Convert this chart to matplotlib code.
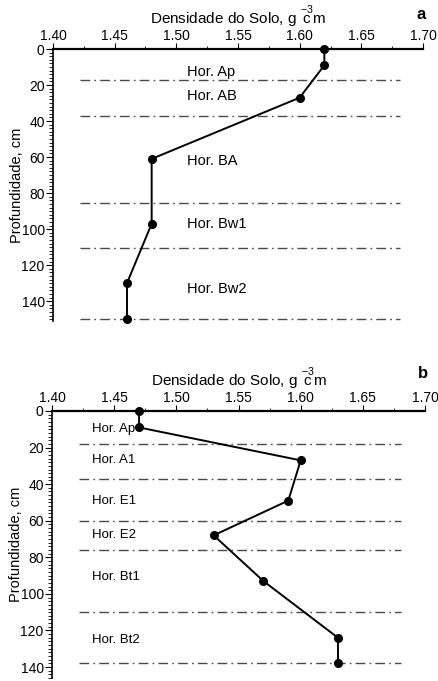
import matplotlib
matplotlib.use('Agg')
import matplotlib.pyplot as plt
from matplotlib.ticker import MultipleLocator

plt.rcParams['font.family'] = ['Liberation Sans', 'DejaVu Sans']
plt.rcParams['mathtext.fontset'] = 'custom'
plt.rcParams['mathtext.rm'] = 'Liberation Sans'
plt.rcParams['mathtext.it'] = 'Liberation Sans'

# profile a
dens_a = [1.62, 1.62, 1.60, 1.48, 1.48, 1.46, 1.46]
depth_a = [0, 9, 27, 61, 97, 130, 150]
bounds_a = [17, 37, 85.5, 110.5, 150]
hor_a = ['Hor. Ap', 'Hor. AB', 'Hor. BA', 'Hor. Bw1', 'Hor. Bw2']
hor_depth_a = [13, 26, 62, 97, 133]

# profile b
dens_b = [1.47, 1.47, 1.60, 1.59, 1.53, 1.57, 1.63, 1.63]
depth_b = [0, 9, 27, 49, 68, 93, 124, 138]
bounds_b = [18, 37, 60, 76, 110, 138]
hor_b = ['Hor. Ap', 'Hor. A1', 'Hor. E1', 'Hor. E2', 'Hor. Bt1', 'Hor. Bt2']
hor_depth_b = [10, 27, 49, 68, 91, 125]

xticks = [1.40, 1.45, 1.50, 1.55, 1.60, 1.65, 1.70]
xticklabels = ['1.40', '1.45', '1.50', '1.55', '1.60', '1.65', '1.70']
xlabel = r'Densidade do Solo, g $\overset{-3}{\mathrm{c}}$m'


def profile(ax, dens, depth, bounds, names, name_depth, name_x, name_size, ymax):
    for b in bounds:
        ax.plot([1.422, 1.681], [b, b], color='#4a4a4a', lw=1.0,
                dashes=(7, 3, 1.2, 3), zorder=1)
    ax.plot(dens, depth, color='black', lw=1.4, marker='o', ms=5.5,
            clip_on=False, zorder=3)
    for n, d in zip(names, name_depth):
        ax.text(name_x, d, n, fontsize=name_size, ha='left', va='center')

    ax.set_xlim(1.40, 1.70)
    ax.set_ylim(ymax, 0)
    ax.xaxis.tick_top()
    ax.xaxis.set_label_position('top')
    ax.set_xticks(xticks)
    ax.set_xticklabels(xticklabels)
    ax.xaxis.set_minor_locator(MultipleLocator(0.025))
    ax.yaxis.set_major_locator(MultipleLocator(20))
    ax.yaxis.set_minor_locator(MultipleLocator(2))
    ax.tick_params(axis='x', which='major', length=4, width=0.8, labelsize=10, pad=0)
    ax.tick_params(axis='x', which='minor', length=2, width=0.6)
    ax.tick_params(axis='y', which='major', length=5, width=0.8, labelsize=10, pad=1)
    ax.tick_params(axis='y', which='minor', length=3, width=0.6)
    for s in ['right', 'bottom']:
        ax.spines[s].set_visible(False)
    ax.spines['top'].set_linewidth(1.6)
    ax.spines['left'].set_linewidth(1.2)
    ax.set_xlabel(xlabel, fontsize=11, labelpad=4)
    ax.set_ylabel('Profundidade, cm', fontsize=10.5)
    ax.yaxis.set_label_coords(-0.079, 0.5)


fig = plt.figure(figsize=(4.39, 6.81), dpi=100)
ax_a = fig.add_axes([0.1207, 0.5287, 0.8429, 0.3993])
ax_b = fig.add_axes([0.1185, 0.0044, 0.8497, 0.3921])

profile(ax_a, dens_a, depth_a, bounds_a, hor_a, hor_depth_a, 1.509, 10.5, 151)
profile(ax_b, dens_b, depth_b, bounds_b, hor_b, hor_depth_b, 1.432, 9.5, 146)

fig.text(0.959, 0.979, 'a', fontsize=12, fontweight='bold', ha='center', va='center')
fig.text(0.964, 0.452, 'b', fontsize=12, fontweight='bold', ha='center', va='center')

fig.savefig('out.png', dpi=100)
